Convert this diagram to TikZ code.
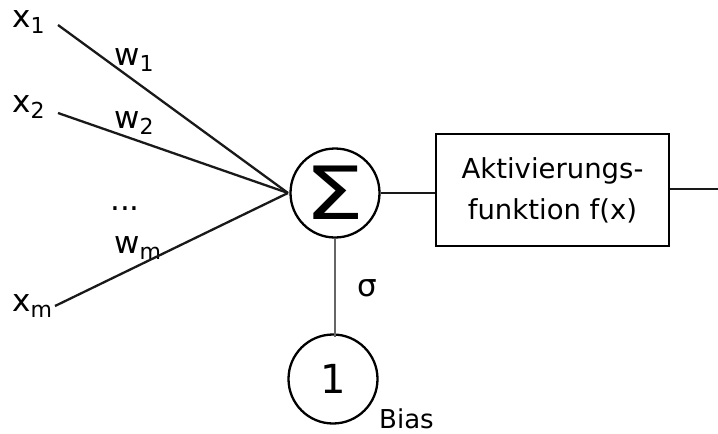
\documentclass[tikz,border=0pt]{standalone}
\usepackage{fontspec}
\setmainfont{DejaVu Sans}
\newcommand{\fs}[1]{\fontsize{#1}{#1}\selectfont}
% letter with a lowered index
\newcommand{\idx}[2]{#1{\fs{22}\raisebox{-6pt}{#2}}}
\begin{document}
\begin{tikzpicture}[x=1pt,y=-1pt,
  wire/.style={line width=2.3pt, black!90},
  lbl/.style={anchor=base west, inner sep=0pt, font=\fs{31}},
  neuron/.style={circle, draw, line width=2.3pt, minimum size=89pt, inner sep=0pt},
  actbox/.style={rectangle, draw, line width=2.3pt, minimum width=233pt, minimum height=112pt,
    align=center, font=\fontsize{27.5}{41}\selectfont}]
\useasboundingbox (0,0) rectangle (718,434);

% inputs and weights
\node[lbl] (x1) at (12,27) {\idx{x}{1}};
\node[lbl] (x2) at (12,112) {\idx{x}{2}};
\node[lbl] (xm) at (12,311) {\idx{x}{m}};
\node[lbl] (w1) at (114,65) {\idx{w}{1}};
\node[lbl] (w2) at (114,128) {\idx{w}{2}};
\node[lbl] (dots) at (110,210) {...};
\node[lbl] (wm) at (114,253) {\idx{w}{m}};

\coordinate (x1p) at (58,25);
\coordinate (x2p) at (58,113);
\coordinate (xmp) at (55,306);
\coordinate (hub) at (288,193);

% summation, bias and activation
\node[neuron] (sum) at (335,193) {\fs{72}\scalebox{1.32}[1.02]{Σ}};
\node[neuron] (bias) at (333,379) {\fs{40}1};
\node[actbox] (act) at (552.5,190) {Aktivierungs-\\funktion f(x)};
\node[lbl] (sigma) at (357,296) {σ};
\node[lbl, font=\fs{26}] (biaslbl) at (379,428) {Bias};
\coordinate (out) at (718,189);

\draw[wire] (x1p) -- (hub);
\draw[wire] (x2p) -- (hub);
\draw[wire] (xmp) -- (hub);
\draw[wire] (sum.east) -- (sum.east -| act.west);
\draw[wire] (act.east |- out) -- (out);
\draw[line width=1.8pt, black!60] (sum.south) -- ([yshift=-4pt]sum.south |- bias.north);
\end{tikzpicture}
\end{document}
